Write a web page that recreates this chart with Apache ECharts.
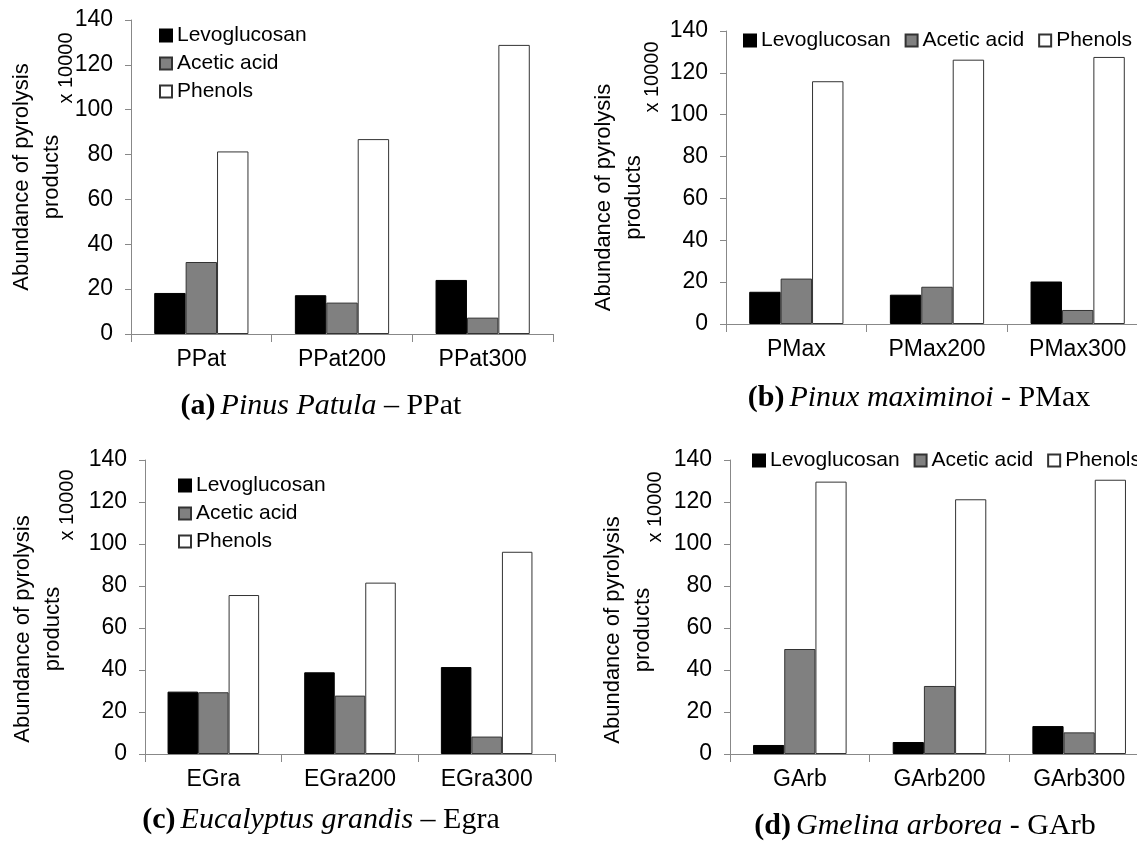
<!DOCTYPE html>
<html>
<head>
<meta charset="utf-8">
<script src="https://cdn.jsdelivr.net/npm/echarts@6/dist/echarts.min.js"></script>
<style>html,body{margin:0;padding:0;background:#fff;}#c{width:1137px;height:848px;}</style>
</head>
<body>
<div id="c"></div>
<script>
// ---- data ----
var seriesNames = ['Levoglucosan', 'Acetic acid', 'Phenols'];
var catsA = ['PPat', 'PPat200', 'PPat300'];
var catsB = ['PMax', 'PMax200', 'PMax300'];
var catsC = ['EGra', 'EGra200', 'EGra300'];
var catsD = ['GArb', 'GArb200', 'GArb300'];
var levoA = [18.3, 17.3, 24.1];
var aceticA = [32.1, 14.0, 7.3];
var phenolsA = [81.4, 86.9, 128.9];
var levoB = [15.4, 14.0, 20.3];
var aceticB = [21.7, 17.8, 6.7];
var phenolsB = [116.0, 126.3, 127.6];
var levoC = [29.7, 38.9, 41.4];
var aceticC = [29.4, 27.8, 8.3];
var phenolsC = [75.7, 81.6, 96.3];
var levoD = [4.3, 5.7, 13.3];
var aceticD = [50.0, 32.4, 10.3];
var phenolsD = [129.7, 121.3, 130.6];
var yTicks = [0, 20, 40, 60, 80, 100, 120, 140];
var yName = 'Abundance of pyrolysis\nproducts';
var yUnit = 'x 10000';
var captions = [
  ['(a)', 'Pinus Patula', ' – PPat'],
  ['(b)', 'Pinux maximinoi', ' - PMax'],
  ['(c)', 'Eucalyptus grandis', ' – Egra'],
  ['(d)', 'Gmelina arborea', ' - GArb']
];

// ---- layout ----
var SANS = 'Liberation Sans, Arial, sans-serif';
var SERIF = 'Liberation Serif, Times New Roman, serif';
var panels = [
  {cats: catsA, vals: [levoA, aceticA, phenolsA], grid: {left: 131, top: 20, width: 422, height: 314},
   legend: {orient: 'vertical', left: 159, top: 25}, nameGap: 64, namePad: 0, unit: [66, 68], cap: [321, 408]},
  {cats: catsB, vals: [levoB, aceticB, phenolsB], grid: {left: 726, top: 31, width: 422, height: 293},
   legend: {orient: 'horizontal', left: 743, top: 30}, nameGap: 77, namePad: 40, unit: [652, 77], cap: [919, 400]},
  {cats: catsC, vals: [levoC, aceticC, phenolsC], grid: {left: 145, top: 460, width: 410, height: 294},
   legend: {orient: 'vertical', left: 178, top: 475}, nameGap: 77, namePad: 44, unit: [67, 505], cap: [321, 822]},
  {cats: catsD, vals: [levoD, aceticD, phenolsD], grid: {left: 730, top: 460, width: 419, height: 294},
   legend: {orient: 'horizontal', left: 752, top: 450}, nameGap: 72, namePad: 46, unit: [655, 507], cap: [925, 828]}
];
var colors = ['#000000', '#808080', '#ffffff'];
var borders = ['#000000', '#333333', '#333333'];

var grids = [], xAxes = [], yAxes = [], series = [], legends = [], titles = [], graphics = [];
panels.forEach(function (p, i) {
  var g = p.grid;
  grids.push({left: g.left, top: g.top, width: g.width, height: g.height,
    containLabel: false, outerBoundsMode: 'none'});
  xAxes.push({
    type: 'category', gridIndex: i, data: p.cats,
    axisLine: {lineStyle: {color: '#888888', width: 1}},
    axisTick: {show: true, length: 8, inside: false, lineStyle: {color: '#888888'}},
    axisLabel: {color: '#000', fontFamily: SANS, fontSize: 23, margin: 14}
  });
  yAxes.push({
    type: 'value', gridIndex: i, min: 0, max: 140, interval: 20,
    splitLine: {show: false},
    axisLine: {show: true, lineStyle: {color: '#888888', width: 1}},
    axisTick: {show: true, length: 6, lineStyle: {color: '#888888'}},
    axisLabel: {color: '#000', fontFamily: SANS, fontSize: 23, margin: 18,
      formatter: function (v) { return yTicks.indexOf(v) >= 0 ? String(v) : ''; }},
    name: yName, nameLocation: 'middle', nameRotate: 90, nameGap: p.nameGap,
    nameTextStyle: {color: '#000', fontFamily: SANS, fontSize: 22, lineHeight: 30,
      padding: [0, p.namePad, 0, 0]}
  });
  seriesNames.forEach(function (n, k) {
    series.push({
      type: 'bar', name: n, xAxisIndex: i, yAxisIndex: i, data: p.vals[k],
      barGap: '0%', barCategoryGap: '33%',
      itemStyle: {color: colors[k], borderColor: borders[k], borderWidth: 1},
      emphasis: {disabled: true}
    });
  });
  var horiz = p.legend.orient === 'horizontal';
  var lg = {
    orient: p.legend.orient, left: p.legend.left, top: p.legend.top,
    data: seriesNames, icon: 'rect', itemWidth: 12, itemHeight: 12,
    itemGap: horiz ? 14 : 7, padding: 0,
    textStyle: {color: '#000', fontFamily: SANS, fontSize: 21, lineHeight: 21},
    selectedMode: false
  };
  if (horiz) { lg.width = 700; }
  legends.push(lg);
  titles.push({
    text: '{b|' + captions[i][0] + '} {i|' + captions[i][1] + '}{n|' + captions[i][2] + '}',
    left: p.cap[0], top: p.cap[1] - 17, textAlign: 'center', padding: 0,
    textStyle: {fontWeight: 'normal', rich: {
      b: {fontFamily: SERIF, fontSize: 30, fontWeight: 'bold', color: '#000'},
      i: {fontFamily: SERIF, fontSize: 30, fontStyle: 'italic', fontWeight: 'normal', color: '#000'},
      n: {fontFamily: SERIF, fontSize: 30, fontWeight: 'normal', color: '#000'}
    }}
  });
  graphics.push({
    type: 'text', x: p.unit[0], y: p.unit[1], rotation: Math.PI / 2,
    style: {text: yUnit, fill: '#000', font: '20px ' + SANS, align: 'center', verticalAlign: 'middle'}
  });
});

var chart = echarts.init(document.getElementById('c'), null, {renderer: 'canvas'});
chart.setOption({
  backgroundColor: '#fff',
  animation: false,
  title: titles,
  legend: legends,
  grid: grids,
  xAxis: xAxes,
  yAxis: yAxes,
  series: series,
  graphic: graphics
});
</script>
</body>
</html>
